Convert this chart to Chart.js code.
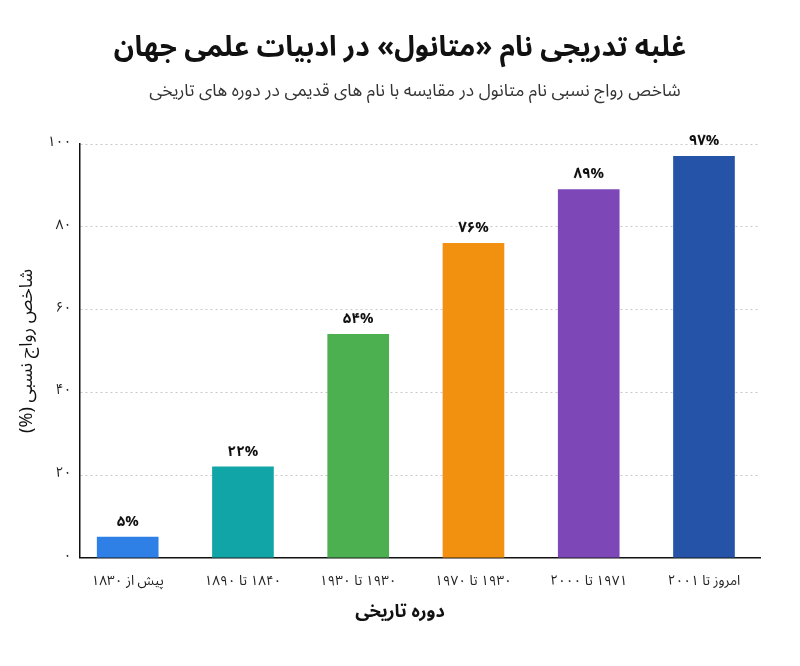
<!DOCTYPE html>
<html lang="fa">
<head>
<meta charset="utf-8">
<script src="https://cdn.jsdelivr.net/npm/chart.js@4"></script>
<style>
  html, body { margin: 0; padding: 0; background: #fff; }
  #wrap { width: 800px; height: 666px; }
  canvas { direction: rtl; }
</style>
</head>
<body>
<div id="wrap"><canvas id="chart" width="800" height="666"></canvas></div>
<script>
const chartTitle = 'غلبه تدریجی نام «متانول» در ادبیات علمی جهان';
const chartSubtitle = 'شاخص رواج نسبی نام متانول در مقایسه با نام های قدیمی در دوره های تاریخی';
const xAxisTitle = 'دوره تاریخی';
const yAxisTitle = 'شاخص رواج نسبی (%)';

const periods = ['پیش از ۱۸۳۰', '۱۸۴۰ تا ۱۸۹۰', '۱۹۳۰ تا ۱۹۳۰', '۱۹۳۰ تا ۱۹۷۰', '۱۹۷۱ تا ۲۰۰۰', 'امروز تا ۲۰۰۱'];
const shareValues = [5, 22, 54, 76, 89, 97];
const barColors = ['#2e7fe6', '#12a5a8', '#4caf50', '#f2900f', '#7e47b8', '#2453a8'];
const yTickValues = [0, 20, 40, 60, 80, 100];
const yTickLabels = ['۰', '۲۰', '۴۰', '۶۰', '۸۰', '۱۰۰'];

const FONT = "'Noto Sans Arabic', 'DejaVu Sans', sans-serif";
const faDigits = '۰۱۲۳۴۵۶۷۸۹';

function toPersian(n) {
  return String(n).replace(/[0-9]/g, d => faDigits[+d]);
}

// value labels above each bar
const valueLabels = {
  id: 'valueLabels',
  afterDatasetsDraw(chart) {
    const ctx = chart.ctx;
    const meta = chart.getDatasetMeta(0);
    ctx.save();
    ctx.font = 'bold 15px ' + FONT;
    ctx.fillStyle = '#111';
    ctx.textAlign = 'center';
    ctx.textBaseline = 'bottom';
    ctx.direction = 'ltr';
    meta.data.forEach((bar, i) => {
      ctx.fillText(toPersian(shareValues[i]) + '%', bar.x, bar.y - 6);
    });
    ctx.restore();
  }
};

// title, subtitle and x title centred on the page
const headings = {
  id: 'headings',
  afterDraw(chart) {
    const ctx = chart.ctx;
    const mid = chart.width / 2;
    ctx.save();
    ctx.textAlign = 'center';
    ctx.textBaseline = 'middle';
    ctx.fillStyle = '#111';
    ctx.font = 'bold 28px ' + FONT;
    ctx.fillText(chartTitle, mid, 52);
    ctx.fillStyle = '#333';
    ctx.font = '17.4px ' + FONT;
    ctx.fillText(chartSubtitle, mid + 15, 93);
    ctx.fillStyle = '#111';
    ctx.font = 'bold 18px ' + FONT;
    ctx.fillText(xAxisTitle, mid, 614);
    ctx.restore();
  }
};

const ctx = document.getElementById('chart').getContext('2d');
new Chart(ctx, {
  type: 'bar',
  data: {
    datasets: [{
      data: shareValues.map((v, i) => ({ x: i, y: v })),
      backgroundColor: barColors,
      borderWidth: 0,
      barThickness: 61,
    }]
  },
  options: {
    responsive: false,
    animation: false,
    layout: { padding: { top: 144, left: 14, right: 40, bottom: 66 } },
    plugins: {
      legend: { display: false },
      tooltip: { enabled: false }
    },
    scales: {
      x: {
        type: 'linear',
        offset: false,
        min: -0.417,
        max: 5.486,
        afterBuildTicks: (scale) => {
          scale.ticks = periods.map((_, i) => ({ value: i }));
        },
        ticks: {
          autoSkip: false,
          maxRotation: 0,
          padding: 9,
          color: '#222',
          font: { family: FONT, size: 13.5 },
          callback: (v) => periods[v]
        },
        grid: { display: false },
        border: { display: true, color: '#111', width: 1.5 }
      },
      y: {
        min: 0,
        max: 100,
        afterBuildTicks: (scale) => {
          scale.ticks = yTickValues.map(v => ({ value: v }));
        },
        ticks: {
          padding: 8,
          color: '#222',
          font: { family: FONT, size: 14 },
          callback: (v) => yTickLabels[yTickValues.indexOf(v)]
        },
        grid: {
          color: '#c8c8c8',
          lineWidth: 1,
          drawTicks: false
        },
        border: { display: true, color: '#111', width: 1.5, dash: [2, 3] },
        title: {
          display: true,
          text: yAxisTitle,
          color: '#111',
          font: { family: FONT, size: 18 },
          padding: { top: 4, bottom: 0 }
        }
      }
    }
  },
  plugins: [valueLabels, headings]
});
</script>
</body>
</html>
